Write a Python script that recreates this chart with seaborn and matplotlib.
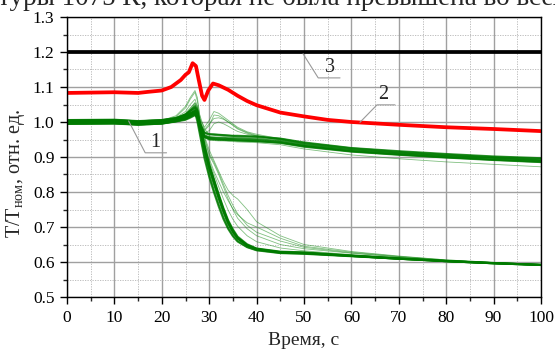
import numpy as np
import pandas as pd
import matplotlib
matplotlib.use("Agg")
import matplotlib.pyplot as plt
import seaborn as sns
from matplotlib.ticker import MultipleLocator

# ---------------- data ----------------
time_grid = [0, 10, 15, 20, 23, 25, 26, 27, 27.5, 28, 29, 30, 31, 32, 33, 34, 35, 36,
             38, 40, 45, 50, 60, 70, 80, 90, 100]

# upper group (end near 0.89) - dense core curves
upper_core = {
    "u1": [1.000, 1.001, 0.997, 1.000, 1.006, 1.012, 1.020, 1.028, 1.020, 0.990, 0.962, 0.957, 0.956, 0.955, 0.955, 0.954, 0.954, 0.953, 0.952, 0.951, 0.946, 0.934, 0.920, 0.911, 0.903, 0.897, 0.891],
    "u2": [1.005, 1.006, 1.002, 1.006, 1.012, 1.022, 1.032, 1.042, 1.032, 0.998, 0.968, 0.964, 0.964, 0.963, 0.962, 0.961, 0.960, 0.959, 0.958, 0.957, 0.952, 0.940, 0.925, 0.915, 0.907, 0.900, 0.895],
    "u3": [0.995, 0.996, 0.993, 0.996, 1.002, 1.008, 1.014, 1.021, 1.014, 0.984, 0.957, 0.951, 0.950, 0.949, 0.949, 0.948, 0.948, 0.947, 0.946, 0.945, 0.940, 0.929, 0.915, 0.906, 0.898, 0.891, 0.885],
    "u8": [0.994, 0.995, 0.992, 0.995, 1.001, 1.006, 1.012, 1.019, 1.013, 0.984, 0.958, 0.952, 0.951, 0.950, 0.949, 0.949, 0.948, 0.947, 0.946, 0.945, 0.941, 0.931, 0.916, 0.907, 0.899, 0.892, 0.886],
    "u11": [1.003, 1.004, 1.000, 1.003, 1.008, 1.016, 1.024, 1.032, 1.024, 0.994, 0.970, 0.966, 0.965, 0.964, 0.963, 0.962, 0.961, 0.961, 0.960, 0.959, 0.953, 0.942, 0.926, 0.917, 0.909, 0.902, 0.897],
    "u12": [0.997, 0.998, 0.995, 0.998, 1.004, 1.010, 1.017, 1.025, 1.017, 0.987, 0.960, 0.955, 0.954, 0.953, 0.952, 0.952, 0.951, 0.950, 0.949, 0.948, 0.943, 0.932, 0.917, 0.908, 0.900, 0.893, 0.888],
}
# upper group - scattered thin curves
upper_thin = {
    "u4": [1.001, 1.002, 0.999, 1.002, 1.012, 1.030, 1.050, 1.065, 1.045, 1.010, 0.985, 1.005, 1.030, 1.025, 1.015, 1.005, 0.995, 0.985, 0.972, 0.965, 0.952, 0.938, 0.923, 0.913, 0.905, 0.898, 0.892],
    "u5": [0.999, 1.000, 0.997, 1.000, 1.008, 1.020, 1.035, 1.050, 1.035, 1.000, 0.975, 0.990, 1.020, 1.018, 1.010, 1.000, 0.990, 0.980, 0.968, 0.960, 0.949, 0.936, 0.921, 0.911, 0.903, 0.896, 0.890],
    "u6": [1.002, 1.003, 0.999, 1.002, 1.007, 1.015, 1.025, 1.035, 1.025, 0.995, 0.970, 0.975, 0.995, 1.000, 0.995, 0.988, 0.980, 0.973, 0.965, 0.960, 0.950, 0.937, 0.921, 0.912, 0.904, 0.897, 0.891],
    "u7": [1.000, 1.001, 0.998, 1.000, 1.005, 1.010, 1.018, 1.025, 1.018, 0.985, 0.955, 0.948, 0.947, 0.946, 0.946, 0.945, 0.944, 0.943, 0.942, 0.941, 0.935, 0.923, 0.906, 0.895, 0.886, 0.879, 0.872],
    "u9": [1.002, 1.003, 1.000, 1.004, 1.015, 1.040, 1.065, 1.085, 1.060, 1.020, 0.980, 0.965, 0.962, 0.960, 0.959, 0.958, 0.957, 0.956, 0.955, 0.954, 0.949, 0.938, 0.923, 0.914, 0.906, 0.899, 0.894],
    "u10": [1.000, 1.001, 0.998, 1.001, 1.010, 1.025, 1.040, 1.055, 1.040, 1.005, 0.978, 0.995, 1.010, 1.012, 1.008, 1.000, 0.992, 0.982, 0.970, 0.962, 0.950, 0.937, 0.922, 0.912, 0.904, 0.897, 0.890],
}

# lower group (end near 0.59) - dense core curves
lower_core = {
    "l1": [1.001, 1.002, 0.998, 1.001, 1.006, 1.013, 1.020, 1.028, 1.022, 0.990, 0.925, 0.872, 0.830, 0.787, 0.748, 0.713, 0.688, 0.668, 0.648, 0.637, 0.628, 0.626, 0.618, 0.610, 0.603, 0.597, 0.592],
    "l2": [1.006, 1.007, 1.003, 1.006, 1.010, 1.018, 1.026, 1.031, 1.010, 0.975, 0.905, 0.850, 0.805, 0.765, 0.728, 0.698, 0.676, 0.660, 0.643, 0.634, 0.626, 0.624, 0.617, 0.609, 0.602, 0.596, 0.591],
    "l3": [0.995, 0.996, 0.992, 0.995, 1.002, 1.008, 1.016, 1.023, 1.017, 0.985, 0.918, 0.865, 0.822, 0.780, 0.742, 0.708, 0.684, 0.666, 0.647, 0.636, 0.627, 0.625, 0.617, 0.609, 0.602, 0.596, 0.592],
    "l4": [1.003, 1.004, 1.000, 1.003, 1.010, 1.021, 1.033, 1.045, 1.035, 1.000, 0.935, 0.880, 0.838, 0.795, 0.755, 0.720, 0.694, 0.673, 0.651, 0.639, 0.630, 0.628, 0.619, 0.611, 0.603, 0.597, 0.592],
    "l9": [0.998, 0.999, 0.995, 0.998, 1.004, 1.011, 1.018, 1.026, 1.020, 0.988, 0.922, 0.868, 0.826, 0.783, 0.745, 0.711, 0.686, 0.667, 0.647, 0.636, 0.627, 0.625, 0.617, 0.609, 0.602, 0.596, 0.591],
    "l10": [1.005, 1.006, 1.002, 1.005, 1.011, 1.021, 1.030, 1.038, 1.028, 0.995, 0.930, 0.876, 0.834, 0.791, 0.751, 0.716, 0.690, 0.670, 0.649, 0.638, 0.629, 0.627, 0.618, 0.610, 0.603, 0.597, 0.592],
    "l12": [1.002, 1.003, 0.999, 1.002, 1.008, 1.016, 1.024, 1.032, 1.025, 0.992, 0.928, 0.874, 0.832, 0.789, 0.750, 0.715, 0.689, 0.669, 0.648, 0.637, 0.628, 0.626, 0.618, 0.610, 0.603, 0.597, 0.592],
    "l13": [0.996, 0.997, 0.993, 0.996, 1.003, 1.013, 1.023, 1.027, 1.000, 0.965, 0.895, 0.842, 0.798, 0.758, 0.722, 0.694, 0.673, 0.658, 0.642, 0.633, 0.625, 0.623, 0.616, 0.609, 0.602, 0.596, 0.591],
}
# lower group - scattered thin curves
lower_thin = {
    "l5": [1.000, 1.001, 0.998, 1.000, 1.007, 1.018, 1.030, 1.040, 1.030, 1.000, 0.950, 0.905, 0.880, 0.850, 0.815, 0.780, 0.750, 0.725, 0.695, 0.675, 0.650, 0.638, 0.625, 0.614, 0.605, 0.598, 0.592],
    "l6": [0.999, 1.000, 0.997, 1.000, 1.006, 1.015, 1.025, 1.035, 1.028, 0.995, 0.945, 0.895, 0.860, 0.830, 0.800, 0.775, 0.752, 0.735, 0.712, 0.700, 0.668, 0.645, 0.628, 0.616, 0.606, 0.599, 0.593],
    "l7": [1.001, 1.002, 0.999, 1.001, 1.008, 1.020, 1.035, 1.050, 1.040, 1.005, 0.960, 0.920, 0.890, 0.860, 0.830, 0.805, 0.790, 0.780, 0.750, 0.715, 0.675, 0.650, 0.630, 0.617, 0.606, 0.599, 0.593],
    "l8": [1.002, 1.003, 1.000, 1.004, 1.018, 1.045, 1.070, 1.090, 1.070, 1.020, 0.940, 0.880, 0.836, 0.792, 0.752, 0.717, 0.691, 0.671, 0.650, 0.638, 0.629, 0.626, 0.618, 0.610, 0.603, 0.597, 0.592],
    "l11": [0.999, 1.000, 0.997, 0.999, 1.005, 1.013, 1.022, 1.030, 1.024, 0.992, 0.935, 0.888, 0.852, 0.815, 0.780, 0.748, 0.722, 0.702, 0.675, 0.658, 0.640, 0.632, 0.621, 0.612, 0.604, 0.597, 0.592],
    "l14": [1.000, 1.001, 0.998, 1.001, 1.009, 1.022, 1.038, 1.055, 1.045, 1.010, 0.955, 0.910, 0.885, 0.855, 0.822, 0.790, 0.762, 0.738, 0.705, 0.685, 0.660, 0.642, 0.626, 0.615, 0.605, 0.598, 0.592],
}

red_time = [0, 10, 15, 17, 20, 22, 24, 25, 25.7, 26.5, 27.2, 27.8, 28.5, 29, 29.8, 30.8,
            32, 34, 36, 38, 40, 45, 50, 55, 60, 70, 80, 90, 100]
red_value = [1.083, 1.085, 1.083, 1.086, 1.090, 1.100, 1.120, 1.135, 1.142, 1.168, 1.160,
             1.120, 1.075, 1.063, 1.090, 1.110, 1.105, 1.092, 1.075, 1.060, 1.048, 1.027,
             1.016, 1.006, 1.000, 0.992, 0.985, 0.980, 0.974]

limit_time = [0, 100]
limit_value = [1.2, 1.2]

x_ticks = [0, 10, 20, 30, 40, 50, 60, 70, 80, 90, 100]
y_ticks = [0.5, 0.6, 0.7, 0.8, 0.9, 1.0, 1.1, 1.2, 1.3]


def to_frame(curves):
    rows = []
    for name, vals in curves.items():
        for t, v in zip(time_grid, vals):
            rows.append({"time": t, "value": v, "curve": name})
    return pd.DataFrame(rows)


df_core = to_frame({**upper_core, **lower_core})
df_thin = to_frame({**upper_thin, **lower_thin})
df_red = pd.DataFrame({"time": red_time, "value": red_value})
df_limit = pd.DataFrame({"time": limit_time, "value": limit_value})

# ---------------- style ----------------
sns.set_style("ticks")
plt.rcParams["font.family"] = ["Liberation Serif", "DejaVu Serif"]
plt.rcParams["mathtext.fontset"] = "custom"
plt.rcParams["mathtext.rm"] = "Liberation Serif"
plt.rcParams["mathtext.default"] = "regular"

fig = plt.figure(figsize=(5.55, 3.53), dpi=100)
ax = fig.add_axes([67 / 555, 1 - 297 / 353, (541 - 67) / 555, (297 - 17) / 353])

ax.set_xlim(0, 100)
ax.set_ylim(0.5, 1.3)
ax.xaxis.set_major_locator(MultipleLocator(10))
ax.xaxis.set_minor_locator(MultipleLocator(5))
ax.yaxis.set_major_locator(MultipleLocator(0.1))
ax.yaxis.set_minor_locator(MultipleLocator(0.05))
ax.grid(which="major", color="#a0a0a0", lw=1.0, ls="-", zorder=0)
ax.grid(which="minor", color="#b4b4b4", lw=0.6, ls=(0, (1.5, 1.5)), zorder=0)
ax.set_axisbelow(True)

sns.lineplot(data=df_thin, x="time", y="value", units="curve", estimator=None,
             color="#1a8c1a", lw=0.6, alpha=0.55, ax=ax, legend=False)
sns.lineplot(data=df_core, x="time", y="value", units="curve", estimator=None,
             color="#007a00", lw=1.3, alpha=0.8, ax=ax, legend=False)
sns.lineplot(data=df_red, x="time", y="value", color="#ff0000", lw=2.7, ax=ax,
             legend=False)
sns.lineplot(data=df_limit, x="time", y="value", color="black", lw=2.7, ax=ax,
             legend=False)

ax.set_xticks(x_ticks)
ax.set_yticks(y_ticks)
ax.set_xticklabels([str(v) for v in x_ticks])
ax.set_yticklabels([f"{v:.1f}" for v in y_ticks])
ax.tick_params(which="major", direction="out", length=5, width=1, labelsize=12.5,
               colors="black", pad=4, top=False, right=False)
ax.tick_params(which="minor", direction="out", length=3, width=1,
               top=False, right=False)
for s in ax.spines.values():
    s.set_color("black")
    s.set_linewidth(1.0)

ax.set_xlabel("Время, с", fontsize=14, labelpad=5)
ax.set_ylabel(r"T/T$_{\mathregular{ном}}$, отн. ед.", fontsize=14.5)
ax.yaxis.set_label_coords(-0.085, 0.44)

# leader lines and labels
lead = dict(color="#999999", lw=0.8, zorder=5)
ax.plot([13.0, 16.5, 21.0], [1.003, 0.912, 0.912], **lead)
ax.text(18.7, 0.915, "1", fontsize=14.5, ha="center", va="bottom", zorder=6)
ax.plot([61.8, 65.4, 69.2], [0.999, 1.049, 1.049], **lead)
ax.text(66.7, 1.052, "2", fontsize=14.5, ha="center", va="bottom", zorder=6)
ax.plot([49.8, 53.0, 57.6], [1.195, 1.126, 1.126], **lead)
ax.text(55.5, 1.129, "3", fontsize=14.5, ha="center", va="bottom", zorder=6)

# clipped line of the surrounding document text
fig.text(-0.003, 1 - 5 / 353, "туры 1075 К, которая не была превышена во всех",
         fontsize=19.5, ha="left", va="baseline")

fig.savefig("out.png", dpi=100)
